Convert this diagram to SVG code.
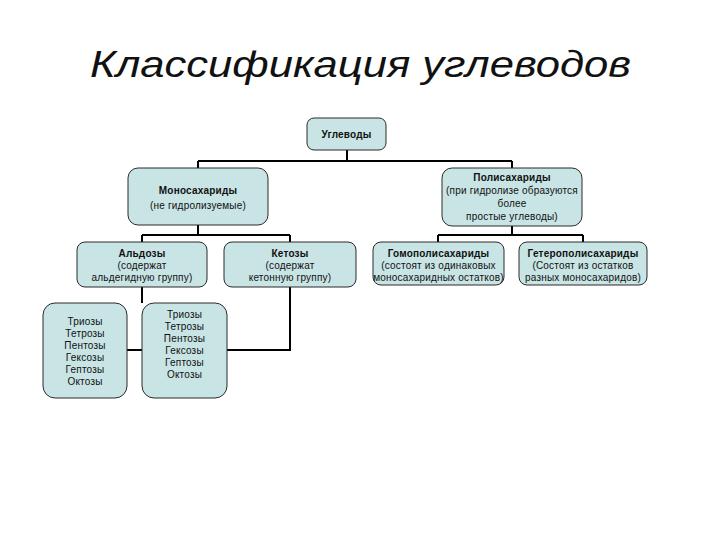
<svg xmlns="http://www.w3.org/2000/svg" width="720" height="540" viewBox="0 0 720 540">
<style>
.box{fill:#c8e4e4;stroke:#2a2a2a;stroke-width:1}
.t{font-family:"Liberation Sans",Arial,sans-serif;font-size:10px;letter-spacing:0.2px;fill:#111;text-anchor:middle}
.b{font-weight:bold;font-size:10px}
.ln{stroke:#000;stroke-width:2;fill:none}
</style>
<rect width="720" height="540" fill="#fff"/>
<text x="360.5" y="77" font-family="'Liberation Sans',Arial,sans-serif" font-style="italic" font-size="36" fill="#111" text-anchor="middle" textLength="541" lengthAdjust="spacingAndGlyphs">Классификация углеводов</text>
<g id="connectors">
<path class="ln" d="M347 150V161M198 161H512M198 161V168M512 161V168"/>
<path class="ln" d="M198 225V235M142 235H290M142 235V242M290 235V242"/>
<path class="ln" d="M512 226V235M438 235H583M438 235V242M583 235V242"/>
<path class="ln" d="M142 287V303M290 287V350H227M127 350H142"/>
</g>
<g id="uglevody"><rect class="box" x="307" y="118" width="79" height="32" rx="7"/><text class="t b" x="346.5" y="138">Углеводы</text></g>
<g id="mono"><rect class="box" x="128" y="168" width="140" height="57" rx="10"/><text class="t b" x="198" y="194">Моносахариды</text><text class="t" x="198" y="209">(не гидролизуемые)</text></g>
<g id="poly"><rect class="box" x="442" y="168" width="140" height="58" rx="10"/><text class="t b" x="512" y="181">Полисахариды</text><text class="t" x="512" y="194">(при гидролизе образуются</text><text class="t" x="512" y="207">более</text><text class="t" x="512" y="220">простые углеводы)</text></g>
<g id="aldozy"><rect class="box" x="77" y="242" width="130" height="45" rx="8"/><text class="t b" x="142" y="257">Альдозы</text><text class="t" x="142" y="269">(содержат</text><text class="t" x="142" y="281">альдегидную группу)</text></g>
<g id="ketozy"><rect class="box" x="224" y="242" width="132" height="45" rx="8"/><text class="t b" x="290" y="257">Кетозы</text><text class="t" x="290" y="269">(содержат</text><text class="t" x="290" y="281">кетонную группу)</text></g>
<g id="gomo"><rect class="box" x="373" y="242" width="131" height="43" rx="8"/><text class="t b" x="438.5" y="257">Гомополисахариды</text><text class="t" x="438.5" y="269">(состоят из одинаковых</text><text class="t" x="438.5" y="281">моносахаридных остатков)</text></g>
<g id="getero"><rect class="box" x="519" y="242" width="128" height="43" rx="8"/><text class="t b" x="583" y="257">Гетерополисахариды</text><text class="t" x="583" y="269">(Состоят из остатков</text><text class="t" x="583" y="281">разных моносахаридов)</text></g>
<g id="ald-list"><rect class="box" x="43" y="303" width="84" height="95" rx="12"/>
<text class="t" x="85" y="325">Триозы</text><text class="t" x="85" y="337">Тетрозы</text><text class="t" x="85" y="349">Пентозы</text><text class="t" x="85" y="361">Гексозы</text><text class="t" x="85" y="373">Гептозы</text><text class="t" x="85" y="385">Октозы</text></g>
<g id="ket-list"><rect class="box" x="142" y="303" width="85" height="95" rx="12"/>
<text class="t" x="184.5" y="318">Триозы</text><text class="t" x="184.5" y="330">Тетрозы</text><text class="t" x="184.5" y="342">Пентозы</text><text class="t" x="184.5" y="354">Гексозы</text><text class="t" x="184.5" y="366">Гептозы</text><text class="t" x="184.5" y="378">Октозы</text></g>
</svg>
